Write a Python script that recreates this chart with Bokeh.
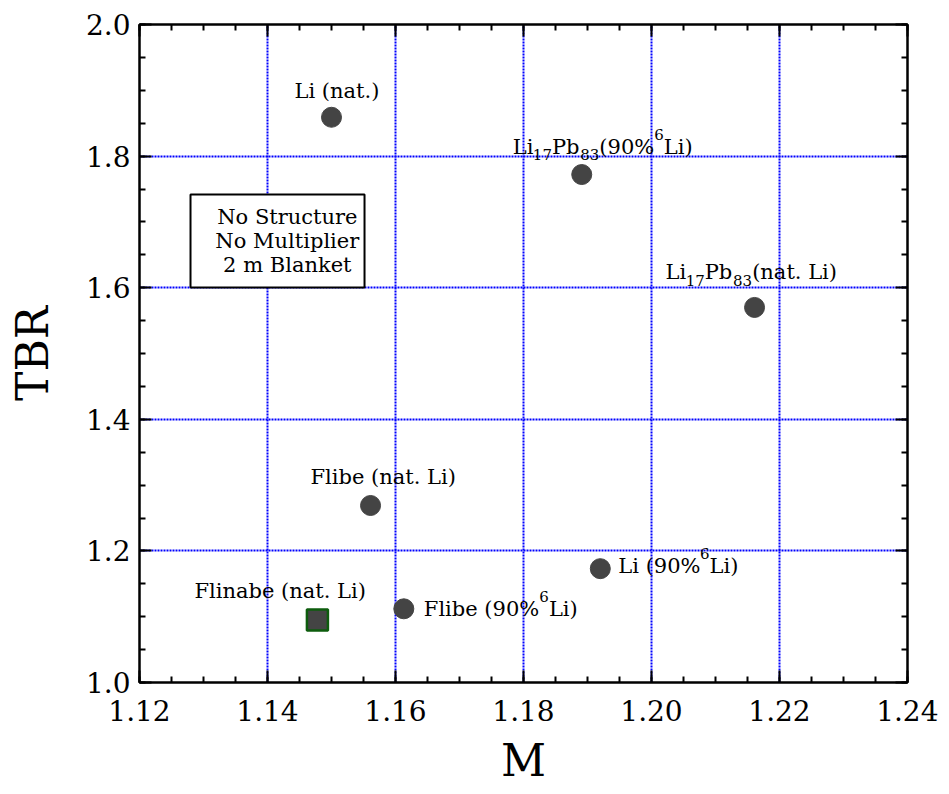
from bokeh.plotting import figure
from bokeh.models import (ColumnDataSource, SingleIntervalTicker, LinearAxis, Range1d,
                          BoxAnnotation, Label, PrintfTickFormatter, CustomLabelingPolicy)
from bokeh.embed import file_html
from bokeh.resources import INLINE
from bokeh.core.properties import value

# ---------------- data ----------------
materials = ["Li (nat.)", "Li17Pb83 (90% 6Li)", "Li17Pb83 (nat. Li)",
             "Flibe (nat. Li)", "Li (90% 6Li)", "Flibe (90% 6Li)"]
m_values = [1.150, 1.1891, 1.2161, 1.1561, 1.1920, 1.1613]
tbr_values = [1.859, 1.772, 1.570, 1.269, 1.173, 1.112]

flinabe_name = ["Flinabe (nat. Li)"]
flinabe_m = [1.1478]
flinabe_tbr = [1.095]

# label texts, split in normal / subscript / superscript pieces
label_parts = [
    [("Li (nat.)", "n")],
    [("Li", "n"), ("17", "sub"), ("Pb", "n"), ("83", "sub"), ("(90%", "n"), ("6", "sup"), ("Li)", "n")],
    [("Li", "n"), ("17", "sub"), ("Pb", "n"), ("83", "sub"), ("(nat. Li)", "n")],
    [("Flibe (nat. Li)", "n")],
    [("Li (90%", "n"), ("6", "sup"), ("Li)", "n")],
    [("Flibe (90%", "n"), ("6", "sup"), ("Li)", "n")],
]
flinabe_parts = [[("Flinabe (nat. Li)", "n")]]

note_lines = ["No Structure", "No Multiplier", "2 m Blanket"]

x_title = "M"
y_title = "TBR"
x_ticks_interval = 0.02
y_ticks_interval = 0.2

# ---------------- layout / style ----------------
FONT = "DejaVu Serif"
NORMAL_PX = 21
SMALL_PX = 15
# label anchor (left x, baseline y) relative to marker centre, screen px
label_offsets = [(-37, -26), (-69, -28), (-89, -35), (-60, -28), (18, -3), (20, 0)]
flinabe_offsets = [(-123, -29)]

# approximate DejaVu Serif advance widths (em)
W = {' ': .318, '(': .390, ')': .390, '%': .950, '.': .318, 'L': .637, 'i': .320,
     'P': .710, 'b': .640, 'n': .644, 'a': .596, 't': .402, 'F': .700, 'l': .320,
     'e': .592}
def text_width(s, px):
    return sum(W.get(c, .636) for c in s) * px

def build_pieces(xs, ys, parts_list, offsets):
    rows = dict(x=[], y=[], text=[], xo=[], yo=[], size=[])
    for x, y, parts, (ox, oy) in zip(xs, ys, parts_list, offsets):
        cx = ox
        for txt, role in parts:
            px = NORMAL_PX if role == "n" else SMALL_PX
            dy = {"n": 0, "sub": 8, "sup": -12}[role]
            rows["x"].append(x)
            rows["y"].append(y)
            rows["text"].append(txt)
            rows["xo"].append(cx)
            rows["yo"].append(oy + dy)
            rows["size"].append(f"{px}px")
            cx += text_width(txt, px)
    return rows

x_lo, x_hi = 1.12, 1.24
y_lo, y_hi = 1.0, 2.0

p = figure(width=938, height=794, output_backend="svg", toolbar_location=None,
           x_range=Range1d(x_lo, x_hi), y_range=Range1d(y_lo, y_hi),
           min_border_left=139, min_border_right=31, min_border_top=24, min_border_bottom=112,
           background_fill_color="white", border_fill_color="white")

xt = SingleIntervalTicker(interval=x_ticks_interval, num_minor_ticks=4)
yt = SingleIntervalTicker(interval=y_ticks_interval, num_minor_ticks=4)
p.xaxis.ticker = xt
p.yaxis.ticker = yt
p.xaxis.formatter = PrintfTickFormatter(format="%.2f")
p.yaxis.formatter = PrintfTickFormatter(format="%.1f")
p.xaxis.axis_label = x_title
p.yaxis.axis_label = y_title

for ax in (p.xaxis[0], p.yaxis[0]):
    ax.axis_label_text_font = FONT
    ax.axis_label_text_font_size = "44px"
    ax.axis_label_text_font_style = "normal"
    ax.axis_label_text_color = "black"
    ax.major_label_text_font = FONT
    ax.major_label_text_font_size = "28px"
    ax.major_label_text_color = "black"
    ax.axis_line_color = "black"
    ax.axis_line_width = 2
    ax.major_tick_in = 12
    ax.major_tick_out = 0
    ax.minor_tick_in = 6
    ax.minor_tick_out = 0
    ax.major_tick_line_width = 2
    ax.minor_tick_line_width = 2
    ax.major_tick_line_color = "black"
    ax.minor_tick_line_color = "black"
p.xaxis.major_label_standoff = 17
p.xaxis.axis_label_standoff = 11
p.yaxis.major_label_standoff = 9
p.yaxis.axis_label_standoff = 25

hide_all = CustomLabelingPolicy(code="""
    for (const i of Array.from(indices)) { indices.unset(i) }
    return indices
""")
for loc, tk in (("above", xt), ("right", yt)):
    a = LinearAxis(ticker=tk, major_label_policy=hide_all, major_label_standoff=0,
                   axis_line_color="black", axis_line_width=2,
                   major_tick_in=12, major_tick_out=0, minor_tick_in=6, minor_tick_out=0,
                   major_tick_line_width=2, minor_tick_line_width=2)
    p.add_layout(a, loc)

p.outline_line_color = "black"
p.outline_line_width = 2
p.grid.grid_line_color = "#0000ff"
p.grid.grid_line_width = 2
p.grid.grid_line_alpha = 1.0
p.grid.grid_line_dash = "2 1"

# markers
src = ColumnDataSource(dict(m=m_values, tbr=tbr_values, name=materials))
p.scatter("m", "tbr", source=src, size=20, marker="circle",
          fill_color="#444444", line_color="#444444")
fsrc = ColumnDataSource(dict(m=flinabe_m, tbr=flinabe_tbr, name=flinabe_name))
p.scatter("m", "tbr", source=fsrc, size=21, marker="square",
          fill_color="#444444", line_color="#0d5c0d", line_width=2.5)

# labels
rows = build_pieces(m_values, tbr_values, label_parts, label_offsets)
frows = build_pieces(flinabe_m, flinabe_tbr, flinabe_parts, flinabe_offsets)
for k in rows:
    rows[k] += frows[k]
lsrc = ColumnDataSource(rows)
p.text("x", "y", text="text", source=lsrc, x_offset="xo", y_offset="yo",
       text_font=value(FONT), text_font_size="size", text_color="black",
       text_align="left", text_baseline="alphabetic")

# note box
box = BoxAnnotation(left=1.12797, right=1.15516, top=1.7416, bottom=1.6003,
                    fill_color="white", fill_alpha=1.0,
                    line_color="black", line_alpha=1.0, line_width=2)
p.add_layout(box)
note = Label(x=1.1431, y=1.6707, text="\n".join(note_lines), text_align="center",
             text_baseline="middle", text_font=FONT, text_font_size="21px",
             text_color="black", text_line_height=1.0)
p.add_layout(note)

open("out.html", "w").write(file_html(p, INLINE))
